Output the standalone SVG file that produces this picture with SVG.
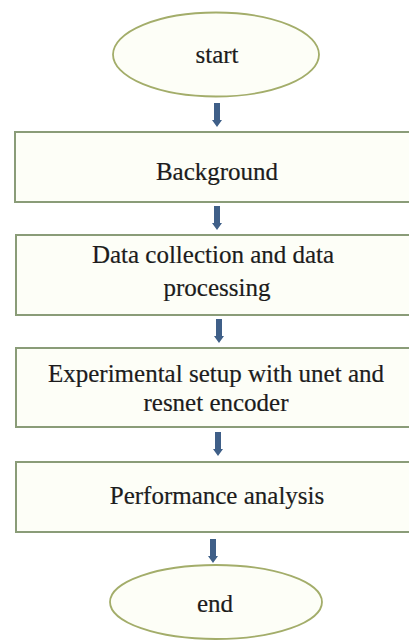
<svg xmlns="http://www.w3.org/2000/svg" width="409" height="641" viewBox="0 0 409 641">
<defs>
<style>
.bg{fill:#ffffff}
.box{fill:#fdfef7;stroke:#8a9c78;stroke-width:2}
.oval{fill:#fdfef7;stroke:#a3ad6a;stroke-width:1.8}
.t{font-family:"Liberation Serif","Times New Roman",serif;font-size:25px;fill:#1c1c1c;stroke:#1c1c1c;stroke-width:0.2;text-anchor:middle}
.arr{fill:#3f5f88}
</style>
<path id="arrow" d="M-3,0 H3 V17 H5 L0,24 L-5,17 H-3 Z"/>
</defs>
<rect class="bg" x="0" y="0" width="409" height="641"/>
<g id="connectors">
<use href="#arrow" class="arr" x="217" y="103"/>
<use href="#arrow" class="arr" x="217" y="206"/>
<use href="#arrow" class="arr" x="219" y="319"/>
<use href="#arrow" class="arr" x="218" y="432"/>
<use href="#arrow" class="arr" x="213" y="539"/>
</g>
<g id="start">
<ellipse class="oval" cx="216" cy="54.5" rx="103" ry="42"/>
<text class="t" x="217" y="63">start</text>
</g>
<g id="background">
<rect class="box" x="15" y="132" width="400" height="70"/>
<text class="t" x="217" y="180">Background</text>
</g>
<g id="data">
<rect class="box" x="16" y="235" width="400" height="80"/>
<text class="t" x="213" y="263">Data collection and data</text>
<text class="t" x="217" y="296">processing</text>
</g>
<g id="experimental">
<rect class="box" x="16" y="348" width="400" height="79"/>
<text class="t" x="216" y="382">Experimental setup with unet and</text>
<text class="t" x="216" y="411">resnet encoder</text>
</g>
<g id="performance">
<rect class="box" x="16" y="462" width="400" height="70"/>
<text class="t" x="217" y="504">Performance analysis</text>
</g>
<g id="end">
<ellipse class="oval" cx="216" cy="602" rx="106" ry="37"/>
<text class="t" x="215" y="612">end</text>
</g>
</svg>
